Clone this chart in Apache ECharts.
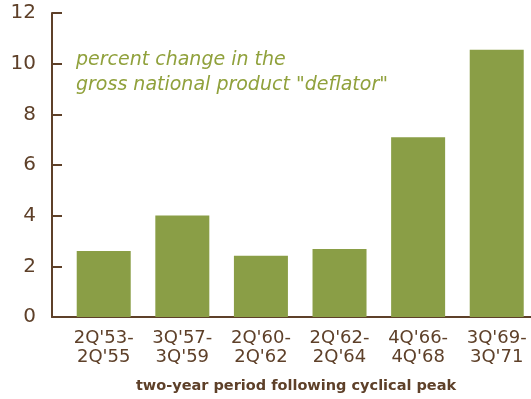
<!DOCTYPE html>
<html>
<head>
<meta charset="utf-8">
<style>html,body{margin:0;padding:0;background:#fff;}#c{width:531px;height:399px;}</style>
<script src="https://cdn.jsdelivr.net/npm/echarts@6/dist/echarts.min.js"></script>
</head>
<body>
<div id="c"></div>
<script>
var categories = ["2Q'53-\n2Q'55", "3Q'57-\n3Q'59", "2Q'60-\n2Q'62", "2Q'62-\n2Q'64", "4Q'66-\n4Q'68", "3Q'69-\n3Q'71"];
var values = [2.61, 4.01, 2.42, 2.68, 7.10, 10.55];
var yTicks = [0, 2, 4, 6, 8, 10, 12];

var brown = '#5e4029';
var green = '#8a9e46';
var textGreen = '#90a13c';
var font = 'DejaVu Sans';

var chart = echarts.init(document.getElementById('c'));
chart.setOption({
  backgroundColor: '#ffffff',
  animation: false,
  title: {
    text: 'percent change in the\ngross national product "deflator"',
    left: 71, top: 43,
    textStyle: { fontFamily: font, fontStyle: 'italic', fontWeight: 'normal', fontSize: 19, color: textGreen, lineHeight: 25 }
  },
  grid: { left: 52, right: 0, top: 13, bottom: 81 },
  xAxis: {
    type: 'value', min: -0.658, max: 5.436,
    splitLine: { show: false },
    axisLine: { show: true, lineStyle: { color: brown, width: 2 } },
    axisTick: { show: false },
    axisLabel: {
      customValues: categories.map(function (c, i) { return i; }),
      formatter: function (v) { return categories[Math.round(v)]; },
      color: brown, fontFamily: font, fontSize: 18, lineHeight: 19, margin: 12
    },
    name: 'two-year period following cyclical peak',
    nameLocation: 'middle', nameGap: 62,
    nameTextStyle: { color: brown, fontFamily: font, fontWeight: 'bold', fontSize: 14.5, padding: [0, 0, 0, 9] }
  },
  yAxis: {
    type: 'value', min: 0, max: 12, interval: 2,
    splitLine: { show: false },
    axisLine: { show: true, onZero: false, lineStyle: { color: brown, width: 2 } },
    axisTick: { show: true, inside: true, length: 10, lineStyle: { color: brown, width: 2 } },
    axisLabel: {
      color: brown, fontFamily: font, fontSize: 20, margin: 16,
      formatter: function (v) { return yTicks.indexOf(v) >= 0 ? String(v) : ''; }
    }
  },
  series: [{
    type: 'bar',
    barWidth: 54,
    itemStyle: { color: green },
    data: values.map(function (v, i) { return [i, v]; })
  }]
});
</script>
</body>
</html>
